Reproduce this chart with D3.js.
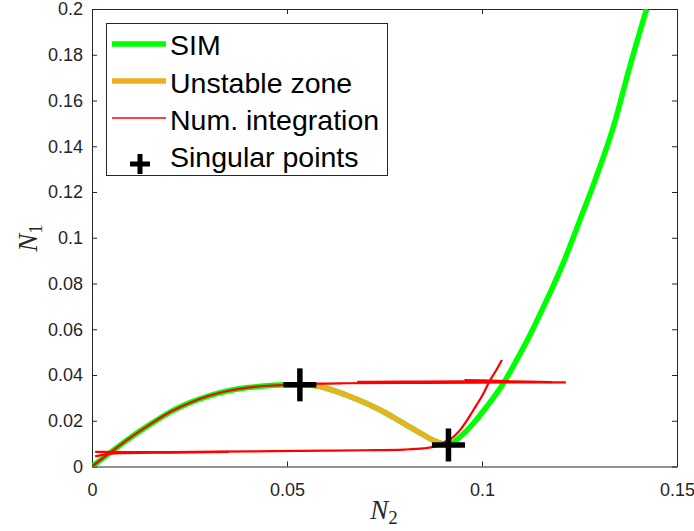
<!DOCTYPE html>
<html><head><meta charset="utf-8">
<script src="https://cdn.jsdelivr.net/npm/d3@7"></script>
<style>
body{margin:0;background:#fff;}
svg{display:block;}
</style></head>
<body>
<script>
// ---- data (N2 = x, N1 = y) ----
const xTicks = [0, 0.05, 0.1, 0.15];
const xTickLabels = ["0", "0.05", "0.1", "0.15"];
const yTicks = [0, 0.02, 0.04, 0.06, 0.08, 0.1, 0.12, 0.14, 0.16, 0.18, 0.2];
const yTickLabels = ["0", "0.02", "0.04", "0.06", "0.08", "0.1", "0.12", "0.14", "0.16", "0.18", "0.2"];

const simLower = [[0,0],[0.005,0.0065],[0.01,0.0128],[0.015,0.0185],[0.02,0.0238],[0.025,0.0278],[0.03,0.0309],[0.035,0.0331],[0.04,0.0345],[0.045,0.0353],[0.05,0.0357],[0.0533,0.0357]];
const unstableZone = [[0.0533,0.0357],[0.0577,0.0352],[0.0628,0.0327],[0.0679,0.0294],[0.0739,0.0247],[0.0799,0.0189],[0.085,0.0138],[0.0884,0.0108],[0.0914,0.0095]];
const simUpper = [[0.0914,0.0095],[0.0944,0.013],[0.0978,0.0189],[0.1012,0.0262],[0.1055,0.0364],[0.1089,0.0466],[0.1123,0.0575],[0.1166,0.0728],[0.1208,0.0888],[0.1251,0.1077],[0.129,0.1252],[0.1337,0.1485],[0.1379,0.1748],[0.1422,0.2]];

const numInt1 = [[0,0],[0.005,0.0065],[0.01,0.0128],[0.015,0.0185],[0.02,0.0238],[0.025,0.0278],[0.03,0.0309],[0.035,0.0331],[0.04,0.0345],[0.045,0.0353],[0.05,0.0357],[0.0533,0.0358],[0.058,0.0362],[0.065,0.0364],[0.085,0.0366],[0.1,0.0367],[0.1215,0.0368]];
const numInt2 = [[0.068,0.0370],[0.08,0.0371],[0.095,0.0372],[0.105,0.0372],[0.112,0.0371],[0.118,0.0369]];
const numInt3 = [[0.0008,0.0064],[0.01,0.0063],[0.02,0.0063],[0.04,0.0066],[0.06,0.0069],[0.07,0.0071],[0.08,0.0074],[0.085,0.0079],[0.088,0.0088],[0.0897,0.0100],[0.0905,0.0108],[0.0918,0.0118],[0.0944,0.016],[0.0978,0.0247],[0.1004,0.032],[0.1021,0.0378],[0.1034,0.0414],[0.1051,0.0466]];
const numInt4 = [[0.0008,0.0044],[0.006,0.0057],[0.02,0.0061],[0.035,0.0064]];
const numInt5 = [[0.0955,0.0376],[0.1,0.0375],[0.107,0.0372]];

const singularPoints = [[0.0533,0.0357],[0.0914,0.0094]];

const legendLabels = ["SIM", "Unstable zone", "Num. integration", "Singular points"];
const colGreen = "#00ff00", colOrange = "#edb120", colRed = "#ff0000";

// ---- layout ----
const W = 694, H = 531;
const L = 92, R = 677, T = 9, B = 466.5;
const svg = d3.select("body").append("svg").attr("width", W).attr("height", H);

const x = d3.scaleLinear().domain([0, 0.15]).range([L, R]);
const y = d3.scaleLinear().domain([0, 0.2]).range([B, T]);

svg.append("defs").append("clipPath").attr("id", "clip")
  .append("rect").attr("x", L).attr("y", T).attr("width", R - L).attr("height", B - T);

const axisCol = "#262626";
const tickFont = "Liberation Sans, Arial, sans-serif";

// axes
const gx = svg.append("g").attr("transform", `translate(0,${B})`)
  .call(d3.axisBottom(x).tickValues(xTicks).tickFormat((d,i)=>xTickLabels[i]).tickSizeInner(-5).tickSizeOuter(0).tickPadding(17));
const gxTop = svg.append("g").attr("transform", `translate(0,${T})`)
  .call(d3.axisTop(x).tickValues(xTicks).tickFormat("").tickSizeInner(-5).tickSizeOuter(0));
const gy = svg.append("g").attr("transform", `translate(${L},0)`)
  .call(d3.axisLeft(y).tickValues(yTicks).tickFormat((d,i)=>yTickLabels[i]).tickSizeInner(-5).tickSizeOuter(0).tickPadding(9));
const gyR = svg.append("g").attr("transform", `translate(${R},0)`)
  .call(d3.axisRight(y).tickValues(yTicks).tickFormat("").tickSizeInner(-5).tickSizeOuter(0));
[gx, gxTop, gy, gyR].forEach(g => {
  g.selectAll("path.domain").attr("stroke", axisCol).attr("stroke-width", 1);
  g.selectAll(".tick line").attr("stroke", axisCol).attr("stroke-width", 1);
  g.selectAll(".tick text").attr("fill", axisCol).style("font-family", tickFont).style("font-size", "18px");
});

const line = d3.line().x(d => x(d[0])).y(d => y(d[1])).curve(d3.curveMonotoneX);
const plot = svg.append("g").attr("clip-path", "url(#clip)");

// SIM (green) full
plot.append("path").datum(simLower.concat(unstableZone.slice(1)).concat(simUpper.slice(1)))
  .attr("d", line).attr("fill", "none").attr("stroke", colGreen).attr("stroke-width", 5.5);
// Unstable zone
plot.append("path").datum(unstableZone).attr("d", line).attr("fill", "none")
  .attr("stroke", colOrange).attr("stroke-width", 5).attr("stroke-linecap", "butt");
// Num integration
[numInt1, numInt2, numInt3, numInt4, numInt5].forEach((arr, i) => {
  plot.append("path").datum(arr).attr("d", line).attr("fill", "none")
    .attr("stroke", colRed).attr("stroke-width", i === 4 ? 3 : 2.2).attr("stroke-linejoin", "round");
});
// singular points
const plus = (g, cx, cy, s, w) => {
  g.append("line").attr("x1", cx - s/2).attr("x2", cx + s/2).attr("y1", cy).attr("y2", cy).attr("stroke", "#000").attr("stroke-width", w);
  g.append("line").attr("x1", cx).attr("x2", cx).attr("y1", cy - s/2).attr("y2", cy + s/2).attr("stroke", "#000").attr("stroke-width", w);
};
singularPoints.forEach(p => plus(svg, x(p[0]), y(p[1]), 33, 5.5));

// legend
const lg = svg.append("g");
lg.append("rect").attr("x", 106.5).attr("y", 23.5).attr("width", 281).attr("height", 152)
  .attr("fill", "#fff").attr("stroke", axisCol).attr("stroke-width", 1);
const rowsY = [44, 81, 118, 160];
const baseY = [55, 92.5, 130, 166.5];
const sampleStyle = [[colGreen, 5.5], [colOrange, 5.5], [colRed, 1.5]];
sampleStyle.forEach((s, i) => {
  lg.append("line").attr("x1", 112).attr("x2", 166).attr("y1", rowsY[i]).attr("y2", rowsY[i])
    .attr("stroke", s[0]).attr("stroke-width", s[1]);
});
plus(lg, 140, 164, 20, 5);
legendLabels.forEach((t, i) => {
  lg.append("text").attr("x", 170).attr("y", baseY[i]).text(t)
    .style("font-family", tickFont).style("font-size", "28.5px").attr("fill", "#000");
});

// axis labels
const xl = svg.append("text").attr("x", 384).attr("y", 519).attr("text-anchor", "middle")
  .style("font-family", "Liberation Serif, Times New Roman, serif").style("font-size", "27px").attr("fill", axisCol);
xl.append("tspan").style("font-style", "italic").text("N");
xl.append("tspan").attr("dy", 5).style("font-size", "19px").text("2");

const yl = svg.append("text").attr("transform", "translate(37,238) rotate(-90)").attr("text-anchor", "middle")
  .style("font-family", "Liberation Serif, Times New Roman, serif").style("font-size", "27px").attr("fill", axisCol);
yl.append("tspan").style("font-style", "italic").text("N");
yl.append("tspan").attr("dy", 5).style("font-size", "19px").text("1");
</script>
</body></html>
